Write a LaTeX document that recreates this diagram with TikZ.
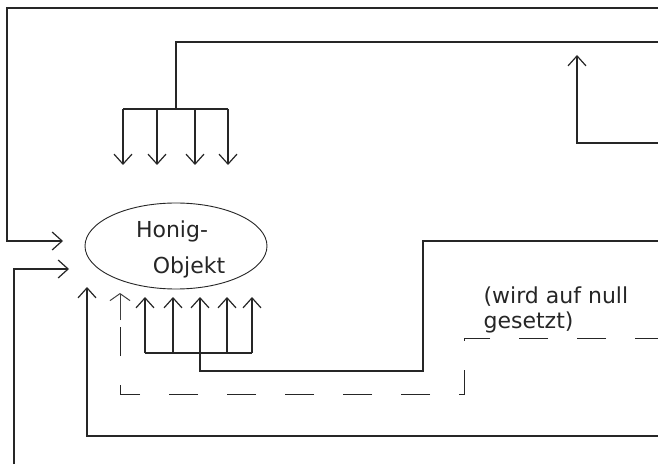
\documentclass[tikz,border=0pt]{standalone}
\usepackage{fontspec}
\setmainfont{DejaVu Sans}
\usetikzlibrary{arrows.meta,shapes.geometric}
\begin{document}
\begin{tikzpicture}[x=1pt,y=-1pt,line width=1.2pt,line join=miter,
  every path/.style={draw=black!85},
  arr/.style={-{Straight Barb[length=10pt,width=18pt]}},
  flatarr/.style={-{Straight Barb[length=7pt,width=20pt]}},
  dsh/.style={dash pattern=on 29pt off 29pt,dash phase=6pt},
  lbl/.style={font=\fontsize{22}{25}\selectfont,inner sep=0pt,text=black!85}]
\useasboundingbox[draw=none,fill=white] (0,0) rectangle (658,470);
% central object
\node[draw,ellipse,line width=0.9pt,minimum width=182pt,minimum height=86pt,inner sep=0pt] (hon) at (176,246) {};
\node[lbl,anchor=base] (hon1) at (172,237) {Honig-};
\node[lbl,anchor=base] (hon2) at (189,273) {Objekt};
% coordinates
\coordinate (e1) at (658,8);   \coordinate (c1) at (7,8);   \coordinate (t1) at (63,241);
\coordinate (s2) at (14,464);  \coordinate (t2) at (69,269);
\coordinate (e3) at (658,42);  \coordinate (j3) at (176,109);
\coordinate (b3l) at (123,109); \coordinate (b3r) at (228,109);
\coordinate (e4) at (658,143); \coordinate (t4) at (577,55);
\coordinate (e5) at (658,241); \coordinate (c5) at (423,371); \coordinate (j5) at (200,353);
\coordinate (b5l) at (145,353); \coordinate (b5r) at (252,353);
\coordinate (e6) at (658,338); \coordinate (c6) at (464,394); \coordinate (t6) at (120,293);
\coordinate (t6b) at (120,320);
\coordinate (e7) at (658,436); \coordinate (t7) at (87,287);
% path 1: outer top loop
\draw[arr] (e1) -- (c1) |- (t1);
% path 2: left bottom
\draw[arr] (s2) |- (t2);
% path 3: top distributor with four arrows down
\draw (e3) -| (j3);
\draw (b3l) -- (b3r);
\foreach \xx/\nm in {123/a,157/b,195/c,228/d}{
  \coordinate (d3\nm) at (\xx,109); \coordinate (d3t\nm) at (\xx,165);
  \draw[arr] (d3\nm) -- (d3t\nm);
}
% path 4: right top arrow up
\draw[arr] (e4) -| (t4);
% path 5: lower distributor with five arrows up
\draw (e5) -| (c5) -| (j5);
\draw (b5l) -- (b5r);
\foreach \xx/\nm in {145/a,173/b,200/c,227/d,252/e}{
  \coordinate (u5\nm) at (\xx,353); \coordinate (u5t\nm) at (\xx,297);
  \draw[arr] (u5\nm) -- (u5t\nm);
}
% path 6: dashed
\draw[dsh,line width=1pt] (e6) -| (c6) -| (t6b);
\draw[flatarr,line width=1pt,draw=black!75] (t6b) -- (t6);
% path 7: bottom solid
\draw[arr] (e7) -| (t7);
% label
\node[lbl,anchor=base west] (w1) at (483,303) {(wird auf null};
\node[lbl,anchor=base west] (w2) at (483,328) {gesetzt)};
\end{tikzpicture}
\end{document}
